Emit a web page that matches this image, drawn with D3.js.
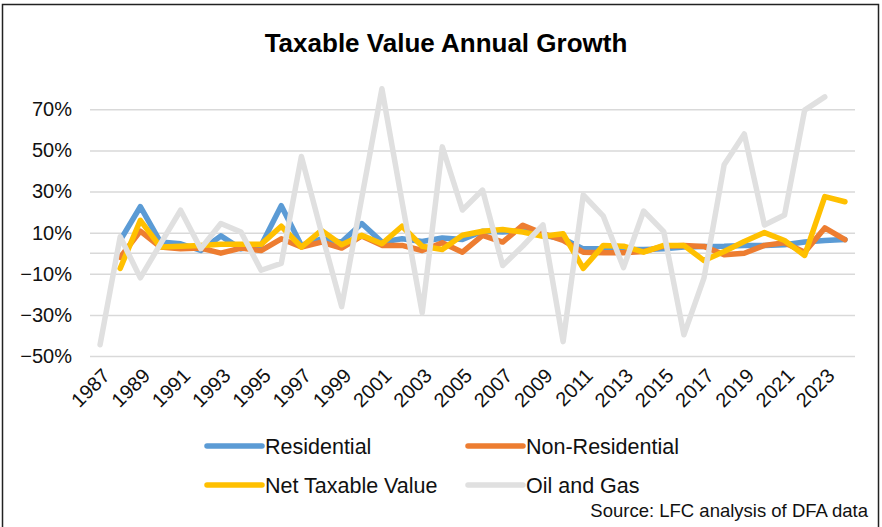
<!DOCTYPE html>
<html lang="en">
<head>
<meta charset="UTF-8">
<title>Taxable Value Annual Growth</title>
<style>
  body { margin: 0; background: #fff; }
  svg text { font-family: "Liberation Sans", Arial, sans-serif; }
</style>
</head>
<body>
<svg id="chart" width="882" height="527"></svg>
<script src="https://cdn.jsdelivr.net/npm/d3@7/dist/d3.min.js"></script>
<script>
// data (percent)
const years = d3.range(1987, 2025);
const residential = [null, 6.2, 22.6, 5.4, 4.6, 1.3, 8.4, 2.1, 3.8, 23.1, 3.8, 7.0, 5.4, 14.4, 5.4, 7.0, 5.7, 7.4, 6.7,
  10.7, 10.3, 11.0, 8.7, 7.0, 2.1, 2.1, 1.8, 1.8, 2.1, 3.0, 3.3, 3.4, 3.8, 3.8, 4.1, 5.4, 6.2, 6.6];
const nonResidential = [null, -2.0, 10.7, 3.0, 2.1, 2.5, 0.0, 2.5, 1.3, 7.0, 3.0, 5.4, 2.5, 8.4, 3.8, 3.8, 1.3, 5.1, 0.5,
  8.7, 5.4, 13.6, 9.5, 6.2, 0.5, 0.2, 0.2, 0.8, 3.4, 3.8, 3.3, -0.8, 0.0, 3.8, 5.1, 0.5, 12.3, 6.6];
const netTaxable = [null, -7.4, 16.0, 3.0, 3.4, 3.8, 4.3, 4.3, 4.3, 13.1, 3.0, 11.1, 4.1, 8.7, 4.6, 13.1, 3.4, 1.8, 8.7,
  10.7, 11.5, 10.3, 8.2, 9.5, -7.4, 3.8, 3.4, 0.5, 3.8, 3.8, -3.6, 0.8, 5.7, 10.0, 6.2, -1.1, 27.5, 25.0];
const oilGas = [-44.5, 8.0, -12.0, 4.5, 20.9, 2.2, 14.4, 10.3, -8.3, -5.0, 47.0, 10.0, -26.0, 27.0, 80.0, 25.0, -29.0, 51.7, 21.0,
  30.7, -6.0, 3.5, 13.8, -43.0, 28.3, 18.0, -7.0, 20.5, 10.5, -39.7, -12.0, 43.0, 58.0, 13.7, 18.6, 69.6, 76.0, null];
const yTicks = [-0.5, -0.3, -0.1, 0.1, 0.3, 0.5, 0.7];
const xLabels = years.filter((d, i) => i % 2 === 0);

const series = [
  { name: 'Residential', values: residential, color: '#5b9bd5' },
  { name: 'Non-Residential', values: nonResidential, color: '#ed7d31' },
  { name: 'Net Taxable Value', values: netTaxable, color: '#ffc000' },
  { name: 'Oil and Gas', values: oilGas, color: '#e0e0e0' }
];

const svg = d3.select('#chart');
const left = 90, right = 855;

const x = d3.scaleBand().domain(years).range([left, right]).padding(0);
const y = d3.scaleLinear().domain([-0.5, 0.8]).range([356, 88.7]);
const cx = yr => x(yr) + x.bandwidth() / 2;

// frame
svg.append('rect').attr('x', 2.5).attr('y', 4.5).attr('width', 876).attr('height', 540)
  .attr('fill', '#fff').attr('stroke', '#222').attr('stroke-width', 1.5);

// title
svg.append('text').attr('x', 446).attr('y', 52).attr('text-anchor', 'middle')
  .style('font-size', '26px').style('font-weight', 'bold').text('Taxable Value Annual Growth');

// gridlines + y labels
const yAxis = d3.axisLeft(y).tickValues(yTicks).tickSize(-(right - left)).tickFormat(d3.format('.0%'));
const gy = svg.append('g').attr('transform', `translate(${left},0)`).call(yAxis);
gy.select('.domain').remove();
gy.selectAll('.tick line').attr('stroke', '#d9d9d9').attr('stroke-width', 1.5);
gy.selectAll('.tick text').attr('x', -18).attr('fill', '#111').style('font-size', '20px')
  .style('font-family', '"Liberation Sans", Arial, sans-serif');

// zero line
svg.append('line').attr('x1', left).attr('x2', right).attr('y1', y(0)).attr('y2', y(0))
  .attr('stroke', '#d9d9d9').attr('stroke-width', 1.5);

// x labels
svg.append('g').selectAll('text').data(xLabels).join('text')
  .attr('transform', d => `translate(${cx(d) + 11},377) rotate(-45)`)
  .attr('text-anchor', 'end').attr('fill', '#111').style('font-size', '20px')
  .text(d => d);

// lines
const line = d3.line()
  .defined(d => d.v !== null)
  .x(d => cx(d.yr))
  .y(d => y(d.v / 100));

svg.append('g').selectAll('path').data(series).join('path')
  .attr('d', s => line(s.values.map((v, i) => ({ yr: years[i], v: v }))))
  .attr('fill', 'none')
  .attr('stroke', s => s.color)
  .attr('stroke-width', 5.5)
  .attr('stroke-linejoin', 'round')
  .attr('stroke-linecap', 'round');

// legend
const legendPos = [[207, 446], [468, 446], [207, 485], [468, 485]];
const lg = svg.append('g').selectAll('g').data(series).join('g')
  .attr('transform', (s, i) => `translate(${legendPos[i][0]},${legendPos[i][1]})`);
lg.append('line').attr('x1', 0).attr('x2', 55).attr('stroke', s => s.color)
  .attr('stroke-width', 5.5).attr('stroke-linecap', 'round');
lg.append('text').attr('x', 58).attr('dy', '0.35em').attr('fill', '#111')
  .style('font-size', '21.5px').text(s => s.name);

// source
svg.append('text').attr('x', 868).attr('y', 517).attr('text-anchor', 'end').attr('fill', '#111')
  .style('font-size', '18.5px').text('Source: LFC analysis of DFA data');
</script>
</body>
</html>
